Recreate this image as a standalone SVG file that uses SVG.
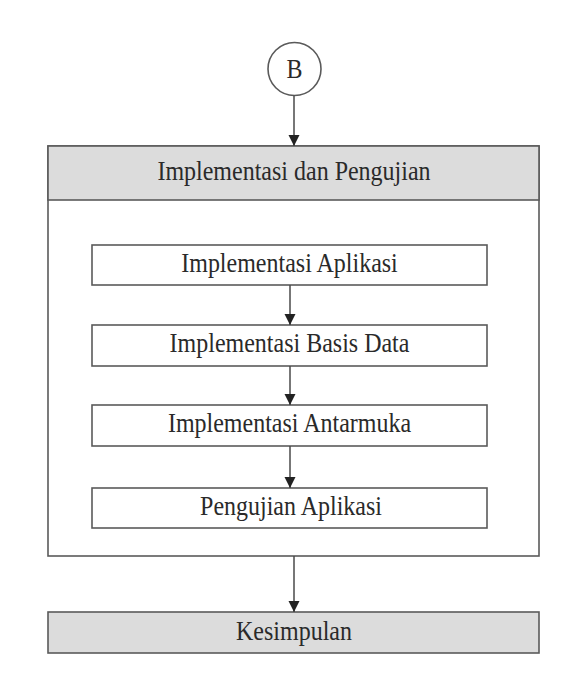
<svg xmlns="http://www.w3.org/2000/svg" width="576" height="680" viewBox="0 0 576 680">
  <style>
    .box { fill: #ffffff; stroke: #5a5a5a; stroke-width: 1.6; }
    .hdr { fill: #dcdcdc; stroke: #5a5a5a; stroke-width: 1.6; }
    .lbl { font-family: "Liberation Serif", "Times New Roman", serif; font-size: 24px; fill: #2a2a2a; text-anchor: middle; }
    .conn { stroke: #4a4a4a; stroke-width: 1.5; fill: none; marker-end: url(#arr); }
  </style>
  <defs>
    <marker id="arr" markerUnits="userSpaceOnUse" markerWidth="12" markerHeight="12" viewBox="0 0 12 12" refX="11" refY="6" orient="auto">
      <path d="M0,0.5 L11,6 L0,11.5 Z" fill="#222222"/>
    </marker>
  </defs>
  <rect width="576" height="680" fill="#ffffff"/>

  <g id="node-b">
    <circle cx="294.5" cy="69" r="26.5" class="box"/>
    <text transform="translate(294.5,77.5) scale(1,1.1)" class="lbl">B</text>
  </g>

  <g id="node-implementasi-pengujian">
    <rect x="48" y="146" width="491" height="410" class="box"/>
    <rect x="48" y="146" width="491" height="54" class="hdr"/>
    <text transform="translate(294,179.5) scale(1,1.1)" class="lbl">Implementasi dan Pengujian</text>
  </g>

  <g id="node-impl-aplikasi">
    <rect x="92" y="245" width="395" height="40" class="box"/>
    <text transform="translate(289.5,271.5) scale(1,1.1)" class="lbl">Implementasi Aplikasi</text>
  </g>

  <g id="node-impl-basis-data">
    <rect x="92" y="325" width="395" height="41" class="box"/>
    <text transform="translate(289.5,352) scale(1,1.1)" class="lbl">Implementasi Basis Data</text>
  </g>

  <g id="node-impl-antarmuka">
    <rect x="92" y="405" width="395" height="41" class="box"/>
    <text transform="translate(289.5,431.5) scale(1,1.1)" class="lbl">Implementasi Antarmuka</text>
  </g>

  <g id="node-pengujian-aplikasi">
    <rect x="92" y="488" width="395" height="40" class="box"/>
    <text transform="translate(291,514.5) scale(1,1.1)" class="lbl">Pengujian Aplikasi</text>
  </g>

  <g id="node-kesimpulan">
    <rect x="48" y="612" width="491" height="41" class="hdr"/>
    <text transform="translate(294,639.5) scale(1,1.1)" class="lbl">Kesimpulan</text>
  </g>

  <g id="connectors">
    <line x1="294" y1="95.5" x2="294" y2="146" class="conn"/>
    <line x1="290" y1="285" x2="290" y2="325" class="conn"/>
    <line x1="290" y1="366" x2="290" y2="405" class="conn"/>
    <line x1="290" y1="446" x2="290" y2="488" class="conn"/>
    <line x1="294" y1="556" x2="294" y2="612" class="conn"/>
  </g>
</svg>
